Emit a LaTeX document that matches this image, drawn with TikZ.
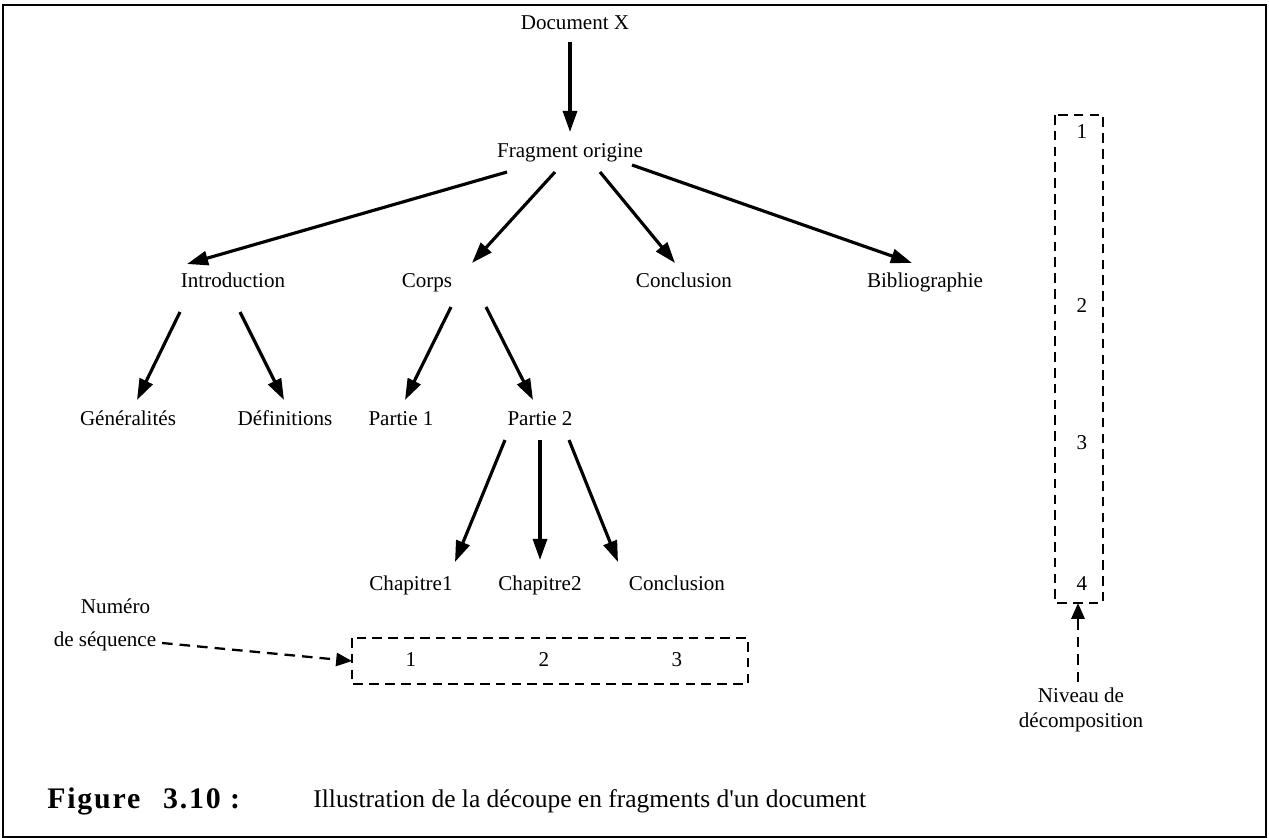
\documentclass[tikz,border=0pt]{standalone}
\usepackage{fontspec}
\setmainfont{Liberation Serif}
\usetikzlibrary{arrows.meta,calc}
\begin{document}
\begin{tikzpicture}[
        x=0.02cm, y=-0.02cm,
        label/.style={
            font=\fontsize{12}{14}\selectfont,
            inner sep=2pt,
            text height=8.5pt,
            text depth=2.5pt
        },
        note/.style={
            inner sep=2pt,
            align=center
        },
        link/.style={
            -{Triangle[length=12pt,width=8pt]},
            line width=1.8pt
        },
        hint/.style={
            -{Triangle[length=9pt,width=7.5pt]},
            line width=1.3pt,
            dash pattern=on 6pt off 4pt
        },
        dashbox/.style={
            draw,
            line width=1.3pt,
            dash pattern=on 5.5pt off 3.5pt
        }
    ]

    \useasboundingbox (0,0) rectangle (1269,838);

    % ---------------------------------------------------------
    % Frame
    % ---------------------------------------------------------
    \draw[line width=1.4pt] (3,5) rectangle (1266,837);

    % ---------------------------------------------------------
    % Tree nodes
    % ---------------------------------------------------------
    \node[label] (doc)   at (575,24)  {Document X};
    \node[label] (frag)  at (570,152) {Fragment origine};

    \node[label] (intro) at (233,282) {Introduction};
    \node[label] (corps) at (427,282) {Corps};
    \node[label] (concl) at (684,282) {Conclusion};
    \node[label] (biblio) at (925,282) {Bibliographie};

    \node[label] (gene)  at (128,420) {Généralités};
    \node[label] (defi)  at (285,420) {Définitions};
    \node[label] (part1) at (401,420) {Partie 1};
    \node[label] (part2) at (540,420) {Partie 2};

    \node[label] (chap1) at (411,585) {Chapitre1};
    \node[label] (chap2) at (540,585) {Chapitre2};
    \node[label] (chap3) at (677,585) {Conclusion};

    % ---------------------------------------------------------
    % Tree arrows
    % ---------------------------------------------------------
    \draw[link] ($(doc)+(-5,18)$) -- ($(frag)+(0,-20)$);

    \draw[link] ($(frag)+(-63,20)$) -- ($(intro)+(-46,-18)$);
    \draw[link] ($(frag)+(-15,20)$) -- ($(corps)+(45,-19)$);
    \draw[link] ($(frag)+(30,20)$)  -- ($(concl)+(-9,-19)$);
    \draw[link] ($(frag)+(62,13)$)  -- ($(biblio)+(-13,-19)$);

    \draw[link] ($(intro)+(-53,30)$) -- ($(gene)+(9,-20)$);
    \draw[link] ($(intro)+(7,30)$)   -- ($(defi)+(-1,-20)$);
    \draw[link] ($(corps)+(24,25)$)  -- ($(part1)+(4,-20)$);
    \draw[link] ($(corps)+(59,25)$)  -- ($(part2)+(-7,-20)$);

    \draw[link] ($(part2)+(-35,20)$) -- ($(chap1)+(44,-23)$);
    \draw[link] ($(part2)+(0,20)$)   -- ($(chap2)+(0,-25)$);
    \draw[link] ($(part2)+(29,20)$)  -- ($(chap3)+(-59,-23)$);

    % ---------------------------------------------------------
    % Sequence numbers
    % ---------------------------------------------------------
    \draw[dashbox] (352,638) rectangle (748,684);
    \coordinate (seqin) at (352,661);
    \node[label] (seq1) at (411,661) {1};
    \node[label] (seq2) at (544,661) {2};
    \node[label] (seq3) at (677,661) {3};

    \node[note, font=\fontsize{12}{19}\selectfont] (seqtxt) at (105,625)
        {\hspace*{12pt}Numéro\\de séquence};
    \draw[hint] ($(seqtxt.east)+(2,18)$) -- (seqin);

    % ---------------------------------------------------------
    % Decomposition levels
    % ---------------------------------------------------------
    \draw[dashbox] (1055,115) rectangle (1103,603);
    \coordinate (lvlin) at (1078,603);
    \node[label] (lvl1) at (1082,133) {1};
    \node[label] (lvl2) at (1082,307) {2};
    \node[label] (lvl3) at (1082,444) {3};
    \node[label] (lvl4) at (1082,585) {4};

    \node[note, font=\fontsize{12}{14}\selectfont] (lvltxt) at (1081,710)
        {Niveau de\\décomposition};
    \draw[hint] ($(lvltxt.north)+(-3,-2)$) -- (lvlin);

    % ---------------------------------------------------------
    % Caption
    % ---------------------------------------------------------
    \node[anchor=west, inner sep=0pt,
          font=\fontsize{17}{19}\selectfont\bfseries\addfontfeature{LetterSpace=6}]
        (capnum) at (47,801) {Figure\hspace{13pt}3.10 :};
    \node[anchor=west, inner sep=0pt, font=\fontsize{14.5}{17}\selectfont]
        (captxt) at (313,801)
        {Illustration de la découpe en fragments d\textquotesingle un document};

\end{tikzpicture}
\end{document}
